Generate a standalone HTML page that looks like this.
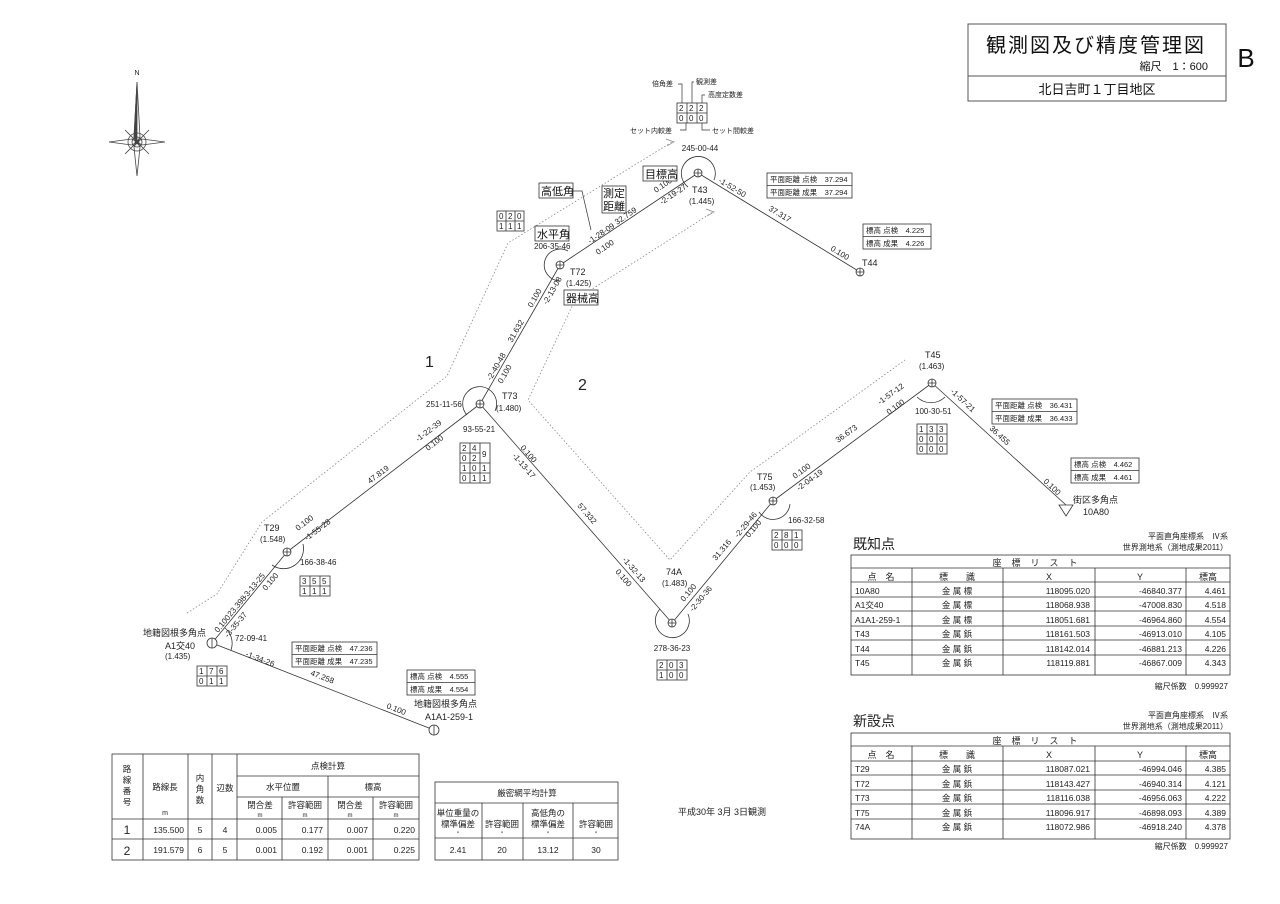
<!DOCTYPE html>
<html><head><meta charset="utf-8"><style>
html,body{margin:0;padding:0;background:#fff;}
svg{display:block;font-family:"Liberation Sans","Noto Sans CJK JP",sans-serif;}
</style></head><body>
<svg width="1280" height="904" viewBox="0 0 1280 904" xmlns="http://www.w3.org/2000/svg">
<rect width="1280" height="904" fill="#fff"/>
<!-- Title -->
<rect x="968" y="24" width="258" height="77" fill="none" stroke="#555" stroke-width="1"/>
<line x1="968" y1="76" x2="1226" y2="76" stroke="#555"/>
<text x="1096" y="52" font-size="20" text-anchor="middle" letter-spacing="2" fill="#111">観測図及び精度管理図</text>
<text x="1208" y="70" font-size="11" text-anchor="end" fill="#111">縮尺　1：600</text>
<text x="1097" y="94" font-size="13" text-anchor="middle" fill="#111">北日吉町１丁目地区</text>
<text x="1246" y="67" font-size="26" text-anchor="middle" fill="#111">B</text>

<!-- Compass -->
<g stroke="#444" stroke-width="0.8" fill="none">
<text x="137" y="75" font-size="7" text-anchor="middle" fill="#222" stroke="none">N</text>
<polygon points="137,82 140,137 137,142 134,137" fill="#fff"/>
<polygon points="137,82 137,142 134,137" fill="#444"/>
<polygon points="137,176 140,147 137,142 134,147"/>
<polygon points="109,142 132,139 137,142 132,145"/>
<polygon points="165,142 142,139 137,142 142,145"/>
<circle cx="137" cy="142" r="9"/>
<circle cx="137" cy="142" r="5"/>
<path d="M125,130 L149,154 M149,130 L125,154"/>
<circle cx="137" cy="142" r="2" fill="#444"/>
</g>

<!-- dotted route lines -->
<g stroke="#888" stroke-width="0.8" stroke-dasharray="1.5,2" fill="none">
<polyline points="187,613 217,594 262,522 447,376 508,243 672,142"/>
<polyline points="575,300 713,212"/>
<polyline points="575,300 528,400 670,560 750,472 905,360"/>
</g>
<path d="M666,139 L674,142 L667,146" fill="none" stroke="#888" stroke-width="0.7"/>
<path d="M706,209 L714,212 L707,216" fill="none" stroke="#888" stroke-width="0.7"/>

<!-- traverse lines -->
<g stroke="#333" stroke-width="0.8" fill="none">
<line x1="212" y1="643" x2="287" y2="552"/>
<line x1="287" y1="552" x2="480" y2="404"/>
<line x1="480" y1="404" x2="560" y2="265"/>
<line x1="560" y1="265" x2="698" y2="173"/>
<line x1="698" y1="173" x2="860" y2="272"/>
<line x1="480" y1="404" x2="672" y2="623"/>
<line x1="672" y1="623" x2="773" y2="501"/>
<line x1="773" y1="501" x2="932" y2="383"/>
<line x1="932" y1="383" x2="1066" y2="505"/>
<line x1="212" y1="643" x2="434" y2="730"/>
<!-- angle arcs -->
<path d="M560,281 A16,16 0 1 1 568,251"/>
<path d="M688,187 A17,17 0 1 1 714,180"/>
<path d="M467,415 A17,17 0 1 1 495,411"/>
<path d="M660,609 A17,17 0 1 0 688,614"/>
<path d="M790,504 A17,17 0 0 1 759,512"/>
<path d="M917,397 A20,20 0 0 0 945,397"/>
<path d="M303,544 A20,20 0 0 1 272,565"/>
<path d="M225,628 A20,20 0 0 1 231,650"/>
</g>
<!-- point symbols -->
<g stroke="#333" stroke-width="0.8" fill="#fff">
<circle cx="560" cy="265" r="4"/><path d="M556,265 H564 M560,261 V269"/>
<circle cx="698" cy="173" r="4"/><path d="M694,173 H702 M698,169 V177"/>
<circle cx="480" cy="404" r="4"/><path d="M476,404 H484 M480,400 V408"/>
<circle cx="860" cy="272" r="4"/><path d="M856,272 H864 M860,268 V276"/>
<circle cx="672" cy="623" r="4"/><path d="M668,623 H676 M672,619 V627"/>
<circle cx="773" cy="501" r="4"/><path d="M769,501 H777 M773,497 V505"/>
<circle cx="932" cy="383" r="4"/><path d="M928,383 H936 M932,379 V387"/>
<circle cx="287" cy="552" r="4"/><path d="M283,552 H291 M287,548 V556"/>
<circle cx="212" cy="643" r="5"/><path d="M212,638 V648"/>
<circle cx="434" cy="730" r="5"/><path d="M434,725 V735"/>
<polygon points="1059,505 1073,505 1066,516"/>
</g>

<g font-size="8" fill="#222">
<!-- point labels -->
<text x="570" y="275" font-size="9">T72</text><text x="566" y="286">(1.425)</text>
<text x="692" y="193" font-size="9">T43</text><text x="689" y="204">(1.445)</text>
<text x="700" y="151" text-anchor="middle">245-00-44</text>
<text x="862" y="266" font-size="9">T44</text>
<text x="502" y="399" font-size="9">T73</text><text x="496" y="411">(1.480)</text>
<text x="426" y="407">251-11-56</text><text x="463" y="432">93-55-21</text>
<text x="666" y="575" font-size="9">74A</text><text x="662" y="586">(1.483)</text>
<text x="672" y="651" text-anchor="middle">278-36-23</text>
<text x="757" y="480" font-size="9">T75</text><text x="750" y="490">(1.453)</text>
<text x="788" y="523">166-32-58</text>
<text x="925" y="358" font-size="9">T45</text><text x="919" y="369">(1.463)</text>
<text x="915" y="414">100-30-51</text>
<text x="1073" y="503" font-size="9">街区多角点</text><text x="1083" y="515" font-size="9">10A80</text>
<text x="264" y="531" font-size="9">T29</text><text x="260" y="542">(1.548)</text>
<text x="300" y="565">166-38-46</text>
<text x="143" y="636" font-size="9">地籍図根多角点</text><text x="165" y="649" font-size="9">A1交40</text><text x="165" y="659">(1.435)</text>
<text x="235" y="641">72-09-41</text>
<text x="414" y="707" font-size="9">地籍図根多角点</text><text x="425" y="720" font-size="9">A1A1-259-1</text>
<text x="534" y="249">206-35-46</text>
<text x="425" y="367" font-size="16">1</text>
<text x="578" y="390" font-size="16">2</text>

<!-- line labels -->
<text transform="translate(590,244) rotate(-34)">-1-28-09</text>
<text transform="translate(598,255) rotate(-34)">0.100</text>
<text transform="translate(617,225) rotate(-34)">32.759</text>
<text transform="translate(656,193) rotate(-34)">0.100</text>
<text transform="translate(662,205) rotate(-34)">-2-19-27</text>
<text transform="translate(718,182) rotate(31)">-1-52-50</text>
<text transform="translate(768,210) rotate(31)">37.317</text>
<text transform="translate(830,250) rotate(31)">0.100</text>
<text transform="translate(547,305) rotate(-60)">-2-13-08</text>
<text transform="translate(532,308) rotate(-60)">0.100</text>
<text transform="translate(512,343) rotate(-60)">31.632</text>
<text transform="translate(491,381) rotate(-60)">-2-40-48</text>
<text transform="translate(502,384) rotate(-60)">0.100</text>
<text transform="translate(418,442) rotate(-37)">-1-22-39</text>
<text transform="translate(428,451) rotate(-37)">0.100</text>
<text transform="translate(370,484) rotate(-37)">47.819</text>
<text transform="translate(298,531) rotate(-37)">0.100</text>
<text transform="translate(307,541) rotate(-37)">-1-55-28</text>
<text transform="translate(520,448) rotate(49)">0.100</text>
<text transform="translate(512,456) rotate(49)">-1-13-17</text>
<text transform="translate(577,506) rotate(49)">57.332</text>
<text transform="translate(622,560) rotate(49)">-1-32-13</text>
<text transform="translate(615,572) rotate(49)">0.100</text>
<text transform="translate(684,602) rotate(-50)">0.100</text>
<text transform="translate(693,612) rotate(-50)">-2-30-36</text>
<text transform="translate(716,561) rotate(-50)">31.316</text>
<text transform="translate(738,538) rotate(-50)">-2-29-46</text>
<text transform="translate(749,538) rotate(-50)">0.100</text>
<text transform="translate(795,479) rotate(-36)">0.100</text>
<text transform="translate(799,491) rotate(-36)">-2-04-19</text>
<text transform="translate(838,443) rotate(-36)">36.673</text>
<text transform="translate(880,405) rotate(-36)">-1-57-12</text>
<text transform="translate(889,415) rotate(-36)">0.100</text>
<text transform="translate(950,392) rotate(43)">-1-57-21</text>
<text transform="translate(989,429) rotate(43)">36.455</text>
<text transform="translate(1043,482) rotate(43)">0.100</text>
<text transform="translate(218,633) rotate(-50)">0.100</text>
<text transform="translate(228,638) rotate(-50)">-3-35-37</text>
<text transform="translate(231,617) rotate(-50)">23.398</text>
<text transform="translate(246,599) rotate(-50)">-3-13-25</text>
<text transform="translate(266,591) rotate(-50)">0.100</text>
<text transform="translate(245,656) rotate(21)">-1-34-26</text>
<text transform="translate(310,675) rotate(21)">47.258</text>
<text transform="translate(386,708) rotate(21)">0.100</text>
</g>

<!-- labelled boxes -->
<g font-size="11" fill="#111" stroke="none">
<rect x="539" y="183" width="34" height="15" fill="#fff" stroke="#333" stroke-width="0.8"/><text x="541" y="195">高低角</text>
<rect x="602" y="186" width="24" height="27" fill="#fff" stroke="#333" stroke-width="0.8"/><text x="603" y="197">測定</text><text x="603" y="210">距離</text>
<rect x="643" y="166" width="34" height="15" fill="#fff" stroke="#333" stroke-width="0.8"/><text x="645" y="178">目標高</text>
<rect x="535" y="226" width="34" height="15" fill="#fff" stroke="#333" stroke-width="0.8"/><text x="537" y="238">水平角</text>
<rect x="564" y="290" width="34" height="15" fill="#fff" stroke="#333" stroke-width="0.8"/><text x="566" y="302">器械高</text>
</g>
<path d="M573,191 L582,191 L591,230" fill="none" stroke="#333" stroke-width="0.7"/>

<!-- top legend -->
<g font-size="7" fill="#222">
<rect x="677" y="103" width="30" height="20" fill="none" stroke="#333" stroke-width="0.8"/>
<path d="M677,113 H707 M687,103 V123 M697,103 V123" stroke="#333" stroke-width="0.8"/>
<text x="679" y="111" font-size="8">2</text><text x="689" y="111" font-size="8">2</text><text x="699" y="111" font-size="8">2</text>
<text x="679" y="121" font-size="8">0</text><text x="689" y="121" font-size="8">0</text><text x="699" y="121" font-size="8">0</text>
<path d="M682,103 V84 H678 M692,103 V82 H694 M702,103 V95 H705 M686,123 V130 H680 M702,123 V130 H710" fill="none" stroke="#333" stroke-width="0.7"/>
<text x="652" y="86">倍角差</text><text x="696" y="84">観測差</text><text x="708" y="97">高度定数差</text>
<text x="630" y="133">セット内較差</text><text x="712" y="133">セット間較差</text>
</g>

<!-- small grids -->
<g font-size="8" fill="#222" stroke="#333" stroke-width="0.8">
<g fill="none"><rect x="497" y="211" width="27" height="20"/><path d="M497,221 H524 M506,211 V231 M515,211 V231"/></g>
<g stroke="none"><text x="499" y="219">0</text><text x="508" y="219">2</text><text x="517" y="219">0</text><text x="499" y="229">1</text><text x="508" y="229">1</text><text x="517" y="229">1</text></g>
<g fill="none"><rect x="460" y="443" width="30" height="40"/><path d="M460,453 H480 M460,463 H490 M460,473 H490 M470,443 V483 M480,443 V483"/></g>
<g stroke="none"><text x="462" y="451">2</text><text x="472" y="451">4</text><text x="462" y="461">0</text><text x="472" y="461">2</text><text x="482" y="457">9</text>
<text x="462" y="471">1</text><text x="472" y="471">0</text><text x="482" y="471">1</text><text x="462" y="481">0</text><text x="472" y="481">1</text><text x="482" y="481">1</text></g>
<g fill="none"><rect x="772" y="530" width="30" height="20"/><path d="M772,540 H802 M782,530 V550 M792,530 V550"/></g>
<g stroke="none"><text x="774" y="538">2</text><text x="784" y="538">8</text><text x="794" y="538">1</text><text x="774" y="548">0</text><text x="784" y="548">0</text><text x="794" y="548">0</text></g>
<g fill="none"><rect x="917" y="424" width="30" height="30"/><path d="M917,434 H947 M917,444 H947 M927,424 V454 M937,424 V454"/></g>
<g stroke="none"><text x="919" y="432">1</text><text x="929" y="432">3</text><text x="939" y="432">3</text><text x="919" y="442">0</text><text x="929" y="442">0</text><text x="939" y="442">0</text><text x="919" y="452">0</text><text x="929" y="452">0</text><text x="939" y="452">0</text></g>
<g fill="none"><rect x="657" y="660" width="30" height="20"/><path d="M657,670 H687 M667,660 V680 M677,660 V680"/></g>
<g stroke="none"><text x="659" y="668">2</text><text x="669" y="668">0</text><text x="679" y="668">3</text><text x="659" y="678">1</text><text x="669" y="678">0</text><text x="679" y="678">0</text></g>
<g fill="none"><rect x="300" y="576" width="30" height="20"/><path d="M300,586 H330 M310,576 V596 M320,576 V596"/></g>
<g stroke="none"><text x="302" y="584">3</text><text x="312" y="584">5</text><text x="322" y="584">5</text><text x="302" y="594">1</text><text x="312" y="594">1</text><text x="322" y="594">1</text></g>
<g fill="none"><rect x="197" y="666" width="30" height="20"/><path d="M197,676 H227 M207,666 V686 M217,666 V686"/></g>
<g stroke="none"><text x="199" y="674">1</text><text x="209" y="674">7</text><text x="219" y="674">6</text><text x="199" y="684">0</text><text x="209" y="684">1</text><text x="219" y="684">1</text></g>
</g>

<!-- info boxes -->
<g font-size="7.5" fill="#222">
<g fill="none" stroke="#333" stroke-width="0.8"><rect x="767" y="173" width="85" height="25"/><line x1="767" y1="185.5" x2="852" y2="185.5"/></g>
<text x="770" y="182">平面距離 点検　37.294</text><text x="770" y="195">平面距離 成果　37.294</text>
<g fill="none" stroke="#333" stroke-width="0.8"><rect x="863" y="224" width="68" height="25"/><line x1="863" y1="236.5" x2="931" y2="236.5"/></g>
<text x="866" y="233">標高 点検　4.225</text><text x="866" y="246">標高 成果　4.226</text>
<g fill="none" stroke="#333" stroke-width="0.8"><rect x="992" y="399" width="85" height="25"/><line x1="992" y1="411.5" x2="1077" y2="411.5"/></g>
<text x="995" y="408">平面距離 点検　36.431</text><text x="995" y="421">平面距離 成果　36.433</text>
<g fill="none" stroke="#333" stroke-width="0.8"><rect x="1071" y="458" width="68" height="25"/><line x1="1071" y1="470.5" x2="1139" y2="470.5"/></g>
<text x="1074" y="467">標高 点検　4.462</text><text x="1074" y="480">標高 成果　4.461</text>
<g fill="none" stroke="#333" stroke-width="0.8"><rect x="292" y="642" width="85" height="25"/><line x1="292" y1="654.5" x2="377" y2="654.5"/></g>
<text x="295" y="651">平面距離 点検　47.236</text><text x="295" y="664">平面距離 成果　47.235</text>
<g fill="none" stroke="#333" stroke-width="0.8"><rect x="407" y="670" width="68" height="25"/><line x1="407" y1="682.5" x2="475" y2="682.5"/></g>
<text x="410" y="679">標高 点検　4.555</text><text x="410" y="692">標高 成果　4.554</text>
</g>

<!-- right tables -->
<g font-size="9" fill="#222">
<text x="853" y="549" font-size="14">既知点</text>
<text x="1228" y="539" text-anchor="end" font-size="8">平面直角座標系　Ⅳ系</text>
<text x="1228" y="550" text-anchor="end" font-size="8">世界測地系（測地成果2011）</text>
<g fill="none" stroke="#333" stroke-width="0.8">
<rect x="851" y="555" width="379" height="120"/>
<path d="M851,568 H1230 M851,582 H1230 M851,597 H1230 M851,611 H1230 M851,626 H1230 M851,640 H1230 M851,655 H1230 M912,568 V675 M1003,568 V675 M1095,568 V675 M1186,568 V675"/>
</g>
<text x="1040" y="566" text-anchor="middle" letter-spacing="10">座標リスト</text>
<text x="881" y="580" text-anchor="middle">点　名</text><text x="957" y="580" text-anchor="middle">標　　識</text><text x="1049" y="580" text-anchor="middle">X</text><text x="1140" y="580" text-anchor="middle">Y</text><text x="1208" y="580" text-anchor="middle">標高</text>
<g font-size="8.5">
<text x="855" y="594">10A80</text><text x="957" y="594" text-anchor="middle">金 属 標</text><text x="1090" y="594" text-anchor="end">118095.020</text><text x="1182" y="594" text-anchor="end">-46840.377</text><text x="1226" y="594" text-anchor="end">4.461</text>
<text x="855" y="608">A1交40</text><text x="957" y="608" text-anchor="middle">金 属 標</text><text x="1090" y="608" text-anchor="end">118068.938</text><text x="1182" y="608" text-anchor="end">-47008.830</text><text x="1226" y="608" text-anchor="end">4.518</text>
<text x="855" y="623">A1A1-259-1</text><text x="957" y="623" text-anchor="middle">金 属 標</text><text x="1090" y="623" text-anchor="end">118051.681</text><text x="1182" y="623" text-anchor="end">-46964.860</text><text x="1226" y="623" text-anchor="end">4.554</text>
<text x="855" y="637">T43</text><text x="957" y="637" text-anchor="middle">金 属 鋲</text><text x="1090" y="637" text-anchor="end">118161.503</text><text x="1182" y="637" text-anchor="end">-46913.010</text><text x="1226" y="637" text-anchor="end">4.105</text>
<text x="855" y="652">T44</text><text x="957" y="652" text-anchor="middle">金 属 鋲</text><text x="1090" y="652" text-anchor="end">118142.014</text><text x="1182" y="652" text-anchor="end">-46881.213</text><text x="1226" y="652" text-anchor="end">4.226</text>
<text x="855" y="666">T45</text><text x="957" y="666" text-anchor="middle">金 属 鋲</text><text x="1090" y="666" text-anchor="end">118119.881</text><text x="1182" y="666" text-anchor="end">-46867.009</text><text x="1226" y="666" text-anchor="end">4.343</text>
</g>
<text x="1228" y="689" text-anchor="end" font-size="8">縮尺係数　0.999927</text>

<text x="853" y="726" font-size="14">新設点</text>
<text x="1228" y="718" text-anchor="end" font-size="8">平面直角座標系　Ⅳ系</text>
<text x="1228" y="729" text-anchor="end" font-size="8">世界測地系（測地成果2011）</text>
<g fill="none" stroke="#333" stroke-width="0.8">
<rect x="851" y="733" width="379" height="106"/>
<path d="M851,746 H1230 M851,761 H1230 M851,775 H1230 M851,790 H1230 M851,804 H1230 M851,819 H1230 M912,746 V839 M1003,746 V839 M1095,746 V839 M1186,746 V839"/>
</g>
<text x="1040" y="744" text-anchor="middle" letter-spacing="10">座標リスト</text>
<text x="881" y="758" text-anchor="middle">点　名</text><text x="957" y="758" text-anchor="middle">標　　識</text><text x="1049" y="758" text-anchor="middle">X</text><text x="1140" y="758" text-anchor="middle">Y</text><text x="1208" y="758" text-anchor="middle">標高</text>
<g font-size="8.5">
<text x="855" y="772">T29</text><text x="957" y="772" text-anchor="middle">金 属 鋲</text><text x="1090" y="772" text-anchor="end">118087.021</text><text x="1182" y="772" text-anchor="end">-46994.046</text><text x="1226" y="772" text-anchor="end">4.385</text>
<text x="855" y="787">T72</text><text x="957" y="787" text-anchor="middle">金 属 鋲</text><text x="1090" y="787" text-anchor="end">118143.427</text><text x="1182" y="787" text-anchor="end">-46940.314</text><text x="1226" y="787" text-anchor="end">4.121</text>
<text x="855" y="801">T73</text><text x="957" y="801" text-anchor="middle">金 属 鋲</text><text x="1090" y="801" text-anchor="end">118116.038</text><text x="1182" y="801" text-anchor="end">-46956.063</text><text x="1226" y="801" text-anchor="end">4.222</text>
<text x="855" y="816">T75</text><text x="957" y="816" text-anchor="middle">金 属 鋲</text><text x="1090" y="816" text-anchor="end">118096.917</text><text x="1182" y="816" text-anchor="end">-46898.093</text><text x="1226" y="816" text-anchor="end">4.389</text>
<text x="855" y="830">74A</text><text x="957" y="830" text-anchor="middle">金 属 鋲</text><text x="1090" y="830" text-anchor="end">118072.986</text><text x="1182" y="830" text-anchor="end">-46918.240</text><text x="1226" y="830" text-anchor="end">4.378</text>
</g>
<text x="1228" y="849" text-anchor="end" font-size="8">縮尺係数　0.999927</text>
</g>

<text x="678" y="815" font-size="9" fill="#222">平成30年 3月 3日観測</text>

<!-- bottom-left table -->
<g font-size="8.5" fill="#222">
<g fill="none" stroke="#333" stroke-width="0.8">
<rect x="112" y="754" width="307" height="106"/>
<path d="M143,754 V860 M188,754 V860 M212,754 V860 M237,754 V860 M237,776 H419 M237,797 H419 M328,776 V860 M282,797 V860 M373,797 V860 M112,819 H419 M112,839 H419"/>
</g>
<g text-anchor="middle">
<text x="127" y="772">路</text><text x="127" y="783">線</text><text x="127" y="794">番</text><text x="127" y="805">号</text>
<text x="165" y="790">路線長</text><text x="165" y="815" font-size="7">m</text>
<text x="200" y="781">内</text><text x="200" y="792">角</text><text x="200" y="803">数</text>
<text x="225" y="791">辺数</text>
<text x="328" y="769">点検計算</text>
<text x="283" y="790">水平位置</text><text x="373" y="790">標高</text>
<text x="260" y="808">閉合差</text><text x="260" y="817" font-size="6">m</text>
<text x="305" y="808">許容範囲</text><text x="305" y="817" font-size="6">m</text>
<text x="350" y="808">閉合差</text><text x="350" y="817" font-size="6">m</text>
<text x="396" y="808">許容範囲</text><text x="396" y="817" font-size="6">m</text>
<text x="127" y="834" font-size="12">1</text><text x="127" y="855" font-size="12">2</text>
<text x="200" y="833">5</text><text x="200" y="853">6</text>
<text x="225" y="833">4</text><text x="225" y="853">5</text>
</g>
<g text-anchor="end">
<text x="184" y="833">135.500</text><text x="184" y="853">191.579</text>
<text x="277" y="833">0.005</text><text x="277" y="853">0.001</text>
<text x="323" y="833">0.177</text><text x="323" y="853">0.192</text>
<text x="368" y="833">0.007</text><text x="368" y="853">0.001</text>
<text x="415" y="833">0.220</text><text x="415" y="853">0.225</text>
</g>
</g>

<!-- second table -->
<g font-size="8.5" fill="#222">
<g fill="none" stroke="#333" stroke-width="0.8">
<rect x="435" y="782" width="183" height="78"/>
<path d="M435,803 H618 M435,838 H618 M482,803 V860 M523,803 V860 M573,803 V860"/>
</g>
<g text-anchor="middle">
<text x="527" y="796">厳密網平均計算</text>
<text x="458" y="816">単位重量の</text><text x="458" y="827">標準偏差</text><text x="458" y="836" font-size="6">″</text>
<text x="502" y="827">許容範囲</text><text x="502" y="836" font-size="6">″</text>
<text x="548" y="816">高低角の</text><text x="548" y="827">標準偏差</text><text x="548" y="836" font-size="6">″</text>
<text x="596" y="827">許容範囲</text><text x="596" y="836" font-size="6">″</text>
<text x="458" y="853">2.41</text><text x="502" y="853">20</text><text x="548" y="853">13.12</text><text x="596" y="853">30</text>
</g>
</g>
</svg>
</body></html>
